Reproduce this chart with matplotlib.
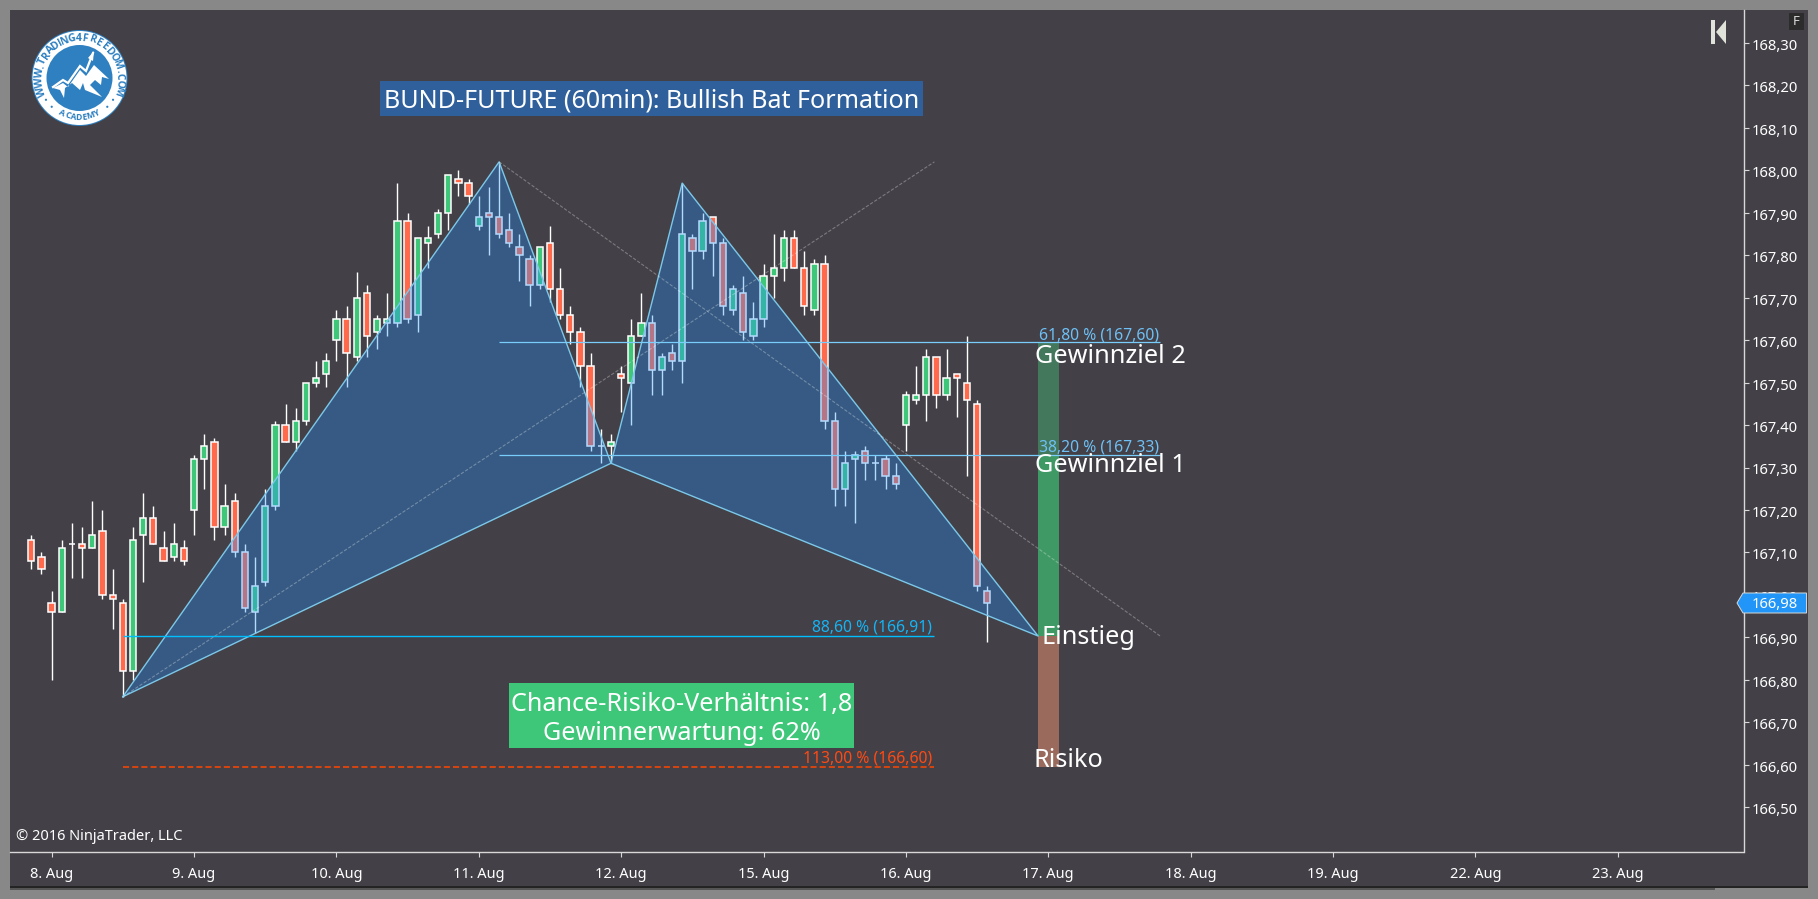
import numpy as np
import matplotlib
matplotlib.use('Agg')
import matplotlib.pyplot as plt
from matplotlib.patches import Rectangle, Polygon, Circle
from matplotlib.transforms import ScaledTranslation

plt.rcParams['font.family'] = ['Noto Sans', 'DejaVu Sans']

# 60 min candles
opens = [167.13, 167.09, 166.98, 166.96, 167.12, 167.12, 167.11, 167.15, 167.00, 166.98,
         166.82, 167.14, 167.18, 167.11, 167.09, 167.11, 167.20, 167.32, 167.36, 167.16,
         167.22, 167.10, 166.96, 167.03, 167.21, 167.40, 167.36, 167.41, 167.50, 167.52,
         167.60, 167.65, 167.56, 167.71, 167.62, 167.64, 167.64, 167.88, 167.66, 167.83,
         167.85, 167.90, 167.98, 167.97, 167.87, 167.90, 167.89, 167.86, 167.82, 167.79,
         167.73, 167.83, 167.72, 167.66, 167.62, 167.54, 167.35, 167.35, 167.52, 167.50,
         167.61, 167.64, 167.53, 167.57, 167.55, 167.84, 167.81, 167.89, 167.83, 167.67,
         167.71, 167.61, 167.65, 167.75, 167.77, 167.84, 167.77, 167.67, 167.78, 167.41,
         167.25, 167.32, 167.34, 167.31, 167.32, 167.28, 167.40, 167.46, 167.47, 167.56,
         167.47, 167.52, 167.50, 167.45, 167.01]
closes = [167.08, 167.06, 166.96, 167.11, 167.12, 167.11, 167.14, 167.00, 166.99, 166.82,
          167.13, 167.18, 167.12, 167.08, 167.12, 167.08, 167.32, 167.35, 167.16, 167.21,
          167.10, 166.97, 167.02, 167.21, 167.40, 167.36, 167.41, 167.50, 167.51, 167.55,
          167.65, 167.57, 167.70, 167.61, 167.65, 167.65, 167.88, 167.65, 167.84, 167.84,
          167.90, 167.99, 167.97, 167.94, 167.89, 167.89, 167.85, 167.83, 167.80, 167.73,
          167.82, 167.72, 167.66, 167.62, 167.54, 167.35, 167.35, 167.36, 167.51, 167.61,
          167.64, 167.53, 167.56, 167.55, 167.85, 167.81, 167.88, 167.83, 167.68, 167.72,
          167.62, 167.65, 167.75, 167.77, 167.84, 167.77, 167.68, 167.78, 167.41, 167.25,
          167.31, 167.33, 167.31, 167.31, 167.28, 167.26, 167.47, 167.47, 167.56, 167.47,
          167.51, 167.51, 167.46, 167.02, 166.98]
highs = [167.14, 167.10, 167.01, 167.13, 167.17, 167.16, 167.22, 167.20, 167.06, 166.99,
         167.16, 167.24, 167.21, 167.15, 167.17, 167.13, 167.33, 167.38, 167.37, 167.26,
         167.24, 167.12, 167.09, 167.25, 167.41, 167.45, 167.44, 167.50, 167.55, 167.57,
         167.67, 167.68, 167.76, 167.73, 167.66, 167.71, 167.97, 167.90, 167.84, 167.87,
         167.91, 167.99, 168.00, 167.98, 167.94, 167.96, 168.02, 167.90, 167.85, 167.80,
         167.82, 167.87, 167.77, 167.68, 167.63, 167.57, 167.39, 167.38, 167.54, 167.65,
         167.71, 167.66, 167.57, 167.59, 167.97, 167.85, 167.90, 167.89, 167.84, 167.73,
         167.75, 167.69, 167.78, 167.85, 167.86, 167.86, 167.81, 167.79, 167.80, 167.43,
         167.34, 167.34, 167.35, 167.33, 167.33, 167.31, 167.48, 167.54, 167.58, 167.56,
         167.58, 167.52, 167.61, 167.46, 167.02]
lows = [167.06, 167.05, 166.80, 166.96, 167.04, 167.04, 167.11, 166.99, 166.92, 166.76,
        166.80, 167.03, 167.12, 167.08, 167.08, 167.07, 167.14, 167.25, 167.13, 167.14,
        167.09, 166.96, 166.91, 167.02, 167.20, 167.36, 167.34, 167.40, 167.49, 167.49,
        167.55, 167.49, 167.55, 167.56, 167.58, 167.61, 167.63, 167.64, 167.62, 167.77,
        167.84, 167.86, 167.94, 167.92, 167.86, 167.80, 167.84, 167.82, 167.74, 167.68,
        167.72, 167.69, 167.65, 167.59, 167.49, 167.34, 167.31, 167.31, 167.43, 167.40,
        167.61, 167.47, 167.47, 167.53, 167.50, 167.72, 167.79, 167.75, 167.66, 167.66,
        167.60, 167.60, 167.63, 167.70, 167.74, 167.77, 167.66, 167.66, 167.39, 167.21,
        167.21, 167.17, 167.27, 167.27, 167.25, 167.25, 167.34, 167.45, 167.41, 167.44,
        167.46, 167.42, 167.28, 167.01, 166.89]

# harmonic pattern points (bar index, price)
xabcd_bars = [9, 46, 57, 64, 99]
xabcd_prices = [166.76, 168.02, 167.31, 167.97, 166.903]

fib_levels = [167.595, 167.33, 166.903, 166.595]
fib_labels = ['61,80 % (167,60)', '38,20 % (167,33)', '88,60 % (166,91)', '113,00 % (166,60)']

day_labels = ['8. Aug', '9. Aug', '10. Aug', '11. Aug', '12. Aug', '15. Aug',
              '16. Aug', '17. Aug', '18. Aug', '19. Aug', '22. Aug', '23. Aug']
price_ticks = [166.5, 166.6, 166.7, 166.8, 166.9, 167.0, 167.1, 167.2, 167.3, 167.4,
               167.5, 167.6, 167.7, 167.8, 167.9, 168.0, 168.1, 168.2, 168.3]

W, H = 1818, 899
BG = '#434147'
GRID = '#d8d8d8'
UP = '#3ec778'
DOWN = '#ff6a4d'

fig = plt.figure(figsize=(W / 100, H / 100), dpi=100, facecolor='#888888')

back = fig.add_axes([0, 0, 1, 1])
back.set_xlim(0, W)
back.set_ylim(H, 0)
back.axis('off')
back.add_patch(Rectangle((10, 10), 1798, 877, color=BG, lw=0))
back.add_patch(Rectangle((10, 886), 1798, 1.5, color='#242424', lw=0))
back.add_patch(Rectangle((10, 887.5), 1705, 2, color='#555555', lw=0))

# main axes sits on exact pixels of the original
ax = fig.add_axes([10 / W, 1 - 852 / H, 1733.5 / W, 842 / H])
ax.set_facecolor(BG)
ax.patch.set_alpha(0)
ax.set_xlim((10 - 31.3) / 10.17, (1743.5 - 31.3) / 10.17)
ax.set_ylim(168.3 - 809 / 424.5, 168.3 + 33 / 424.5)

idx = np.arange(len(opens))
o = np.array(opens)
c = np.array(closes)
tops = np.maximum(o, c)
bots = np.minimum(o, c)
cols = [UP if c[i] > o[i] else DOWN for i in idx]

# target / risk column
col_x = 100
col_w = 2.06
ax.bar(col_x, fib_levels[0] - fib_levels[1], bottom=fib_levels[1], width=col_w, color='#44785c', zorder=1)
ax.bar(col_x, fib_levels[1] - fib_levels[2], bottom=fib_levels[2], width=col_w, color='#3f9965', zorder=1)
ax.bar(col_x, fib_levels[2] - fib_levels[3], bottom=fib_levels[3], width=col_w, color='#9a6b5c', zorder=1)

ax.vlines(idx, lows, highs, color='white', lw=1.0, zorder=2)
ax.bar(idx, tops - bots, bottom=bots, width=0.62, color=cols, edgecolor='white', linewidth=1.1, zorder=3)

# pattern triangles go over the candles, that gives the tint
xp = xabcd_bars
yp = xabcd_prices
ax.fill([xp[0], xp[1], xp[2]], [yp[0], yp[1], yp[2]], color='#1e90ff', alpha=0.33, lw=0, zorder=4)
ax.fill([xp[2], xp[3], xp[4]], [yp[2], yp[3], yp[4]], color='#1e90ff', alpha=0.33, lw=0, zorder=4)
line_col = '#7cc8ea'
ax.plot([xp[0], xp[1], xp[2], xp[3], xp[4], xp[2], xp[0]],
        [yp[0], yp[1], yp[2], yp[3], yp[4], yp[2], yp[0]], color=line_col, lw=1.0, zorder=5)

# dashed diagonals
ax.plot([xp[0], 88.8], [yp[0], yp[1]], color='white', alpha=0.3, lw=0.8, ls=(0, (3, 1.5)), zorder=5)
ax.plot([xp[1], 111], [yp[1], yp[4]], color='white', alpha=0.3, lw=0.8, ls=(0, (3, 1.5)), zorder=5)

# fib lines
ax.hlines(fib_levels[0], xp[1], 111, color='#78cdfa', lw=0.9, zorder=6)
ax.hlines(fib_levels[1], xp[1], 111, color='#78cdfa', lw=0.9, zorder=6)
ax.hlines(fib_levels[2], xp[0], 88.8, color='#00bfff', lw=1.0, zorder=6)
ax.hlines(fib_levels[3], xp[0], 88.8, color='#ff4500', lw=1.1, ls=(0, (4, 2)), zorder=6)

ax.text(110.9, fib_levels[0] - 0.002, fib_labels[0], color='#6ec0f5', fontsize=11.3, ha='right', va='bottom', zorder=7)
ax.text(110.9, fib_levels[1] - 0.002, fib_labels[1], color='#6ec0f5', fontsize=11.3, ha='right', va='bottom', zorder=7)
ax.text(88.6, fib_levels[2] + 0.001, fib_labels[2], color='#14b4f5', fontsize=11.3, ha='right', va='bottom', zorder=7)
ax.text(88.6, fib_levels[3] + 0.001, fib_labels[3], color='#ff4a14', fontsize=11.3, ha='right', va='bottom', zorder=7)

# axes look
for s in ['top', 'left']:
    ax.spines[s].set_visible(False)
for s in ['right', 'bottom']:
    ax.spines[s].set_color(GRID)
    ax.spines[s].set_linewidth(1.0)
ax.yaxis.tick_right()
ax.set_yticks(price_ticks)
ax.set_yticklabels([f'{p:.2f}'.replace('.', ',') for p in price_ticks])
ax.set_xticks([2 + 14 * k for k in range(len(day_labels))])
ax.set_xticklabels(day_labels)
ax.tick_params(axis='y', length=3.6, width=0.8, color=GRID, labelcolor='white', labelsize=10.6, pad=2)
ax.tick_params(axis='x', length=3.6, width=0.8, color=GRID, labelcolor='white', labelsize=10.5, pad=7)
nudge = ScaledTranslation(0, -1.5 / 100, fig.dpi_scale_trans)
for lbl in ax.get_yticklabels():
    lbl.set_transform(lbl.get_transform() + nudge)

# overlay in pixels for the annotations
ov = fig.add_axes([0, 0, 1, 1])
ov.set_xlim(0, W)
ov.set_ylim(H, 0)
ov.axis('off')
ov.patch.set_alpha(0)

ov.add_patch(Rectangle((380, 81), 543, 35, color='#30609b', lw=0))
ov.text(651.5, 101, 'BUND-FUTURE (60min): Bullish Bat Formation', color='white', fontsize=18.1, ha='center', va='center')

ov.add_patch(Rectangle((509, 683), 345, 65, color=UP, lw=0))
ov.text(681.5, 704, 'Chance-Risiko-Verhältnis: 1,8', color='white', fontsize=18.15, ha='center', va='center')
ov.text(681.5, 733, 'Gewinnerwartung: 62%', color='white', fontsize=18.15, ha='center', va='center')

ov.text(1035, 363, 'Gewinnziel 2', color='white', fontsize=18.2, ha='left', va='baseline')
ov.text(1035, 472, 'Gewinnziel 1', color='white', fontsize=18.2, ha='left', va='baseline')
ov.text(1041, 644, 'Einstieg', color='white', fontsize=18.2, ha='left', va='baseline')
ov.text(1034, 767, 'Risiko', color='white', fontsize=18.2, ha='left', va='baseline')

ov.text(16, 837, '© 2016 NinjaTrader, LLC', color='white', fontsize=10.5, ha='left', va='center')

# price tag
ov.add_patch(Polygon([(1737, 603), (1743, 593), (1806.5, 593), (1806.5, 613), (1743, 613)],
                     facecolor='#2196f8', edgecolor='#d8d8d8', lw=0.7))
ov.text(1752, 604, '166,98', color='white', fontsize=10.6, ha='left', va='center')

# F button and the K icon
ov.add_patch(Rectangle((1789, 13), 15, 17, color='#2c2c2c', lw=0))
ov.text(1796.5, 21.5, 'F', color='#d8d8d8', fontsize=9.5, ha='center', va='center')
ov.add_patch(Rectangle((1711, 20), 4, 24, color='#dfe3da', lw=0))
ov.add_patch(Polygon([(1716, 32), (1726, 20), (1726, 44)], color='#dfe3da', lw=0))


def ring_angles(text, start, end):
    # narrow letters get less of the arc
    w = np.array([0.45 if ch in '.I' else (1.35 if ch in 'WM' else 1.0) for ch in text])
    pos = np.cumsum(w) - w / 2
    return start + (end - start) * pos / w.sum()


# logo
cx, cy = 79.5, 78
ov.add_patch(Circle((cx, cy), 48, color='#2e80c1', lw=0))
ov.add_patch(Circle((cx, cy), 47, color='white', lw=0))
ov.add_patch(Circle((cx, cy), 33, color='#2e80c1', lw=0))
ring_text = 'WWW.TRADING4FREEDOM.COM'
for ch, th in zip(ring_text, ring_angles(ring_text, 206, -26)):
    t = np.deg2rad(th)
    ov.text(cx + 40 * np.cos(t), cy - 40 * np.sin(t), ch, rotation=th - 90, color='#2e80c1', family='Open Sans',
            fontsize=7.6, fontweight='bold', ha='center', va='center', rotation_mode='anchor')
academy = 'ACADEMY'
for ch, th in zip(academy, ring_angles(academy, 240, 300)):
    t = np.deg2rad(th)
    ov.text(cx + 39.5 * np.cos(t), cy - 39.5 * np.sin(t), ch, rotation=th + 90, color='#2e80c1', family='Open Sans',
            fontsize=6.2, fontweight='bold', ha='center', va='center', rotation_mode='anchor')
for th in [213, 226, 314, 327]:
    t = np.deg2rad(th)
    ov.add_patch(Circle((cx + 40 * np.cos(t), cy - 40 * np.sin(t)), 1.1, color='#2e80c1', lw=0))
ov.plot([53, 63, 68, 80, 86, 93], [87, 80, 83, 66, 71, 53], color='white', lw=1.6, solid_joinstyle='miter')
ov.add_patch(Polygon([(94, 51), (88, 58), (93, 61)], color='white', lw=0))
ov.add_patch(Polygon([(94, 65), (109, 79), (102, 77), (101, 85), (95, 80), (90, 85), (102, 97),
                      (85, 90), (83, 83), (80, 90), (72, 83), (65, 88), (64, 98), (60, 90),
                      (53, 88), (63, 83), (68, 87), (80, 70), (86, 76)], color='white', lw=0))

fig.savefig('out.png', dpi=100, facecolor=fig.get_facecolor())
